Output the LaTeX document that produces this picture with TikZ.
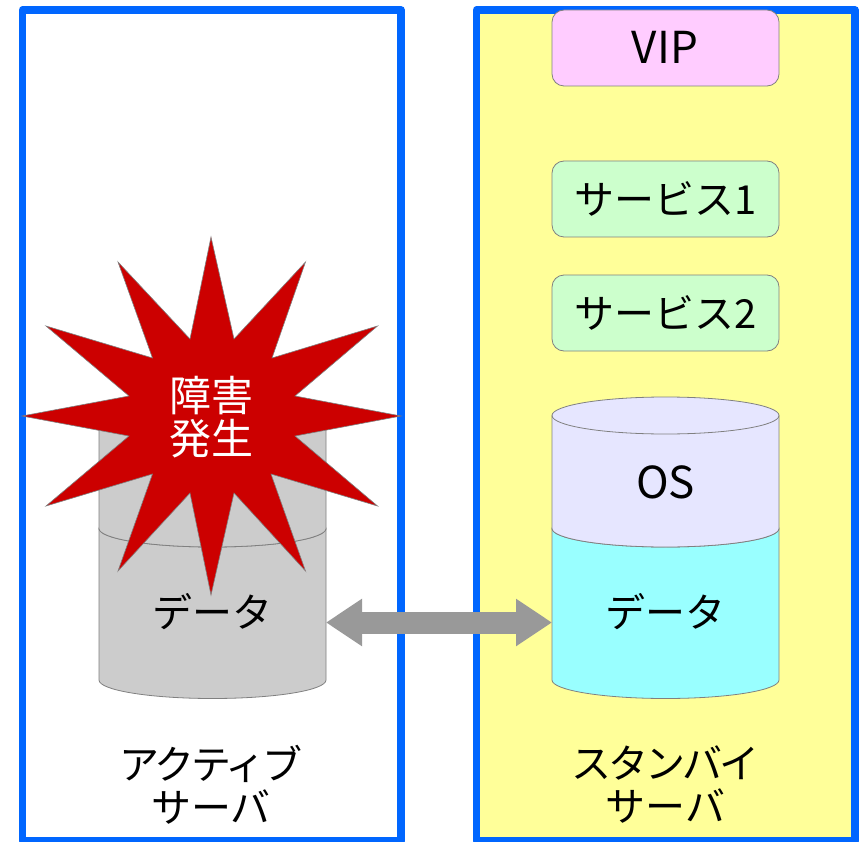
\documentclass[tikz,border=0pt]{standalone}
\usepackage{fontspec}
\setmainfont{Noto Sans CJK JP}
\usetikzlibrary{arrows.meta}
\definecolor{frameblue}{HTML}{0066FF}
\definecolor{paleyellow}{HTML}{FFFF99}
\definecolor{edgegray}{HTML}{808080}
\definecolor{vipfill}{HTML}{FFCCFF}
\definecolor{svcfill}{HTML}{CCFFCC}
\definecolor{osfill}{HTML}{E6E6FF}
\definecolor{datafill}{HTML}{99FFFF}
\definecolor{deadfill}{HTML}{CCCCCC}
\definecolor{linkgray}{HTML}{999999}
\definecolor{burst}{HTML}{CC0000}
\tikzset{
  x=1pt,y=-1pt,
  frame/.style={draw=frameblue,line width=7.5pt,line join=round},
  pill/.style={draw=edgegray,line width=0.8pt,rounded corners=12pt},
  cyl/.style={draw=edgegray,line width=0.8pt},
  label/.style={font=\fontsize{40}{43}\selectfont,align=center,inner sep=0pt,text=black},
  latinlabel/.style={label,font=\fontsize{44}{46}\selectfont},
  faultlabel/.style={label,font=\fontsize{42}{43}\selectfont,text=white},
  syncarrow/.style={line width=22pt,draw=linkgray,{Triangle[length=36pt,width=45pt]}-{Triangle[length=36pt,width=45pt]}},
}
% #1 left x, #2 right x, #3 side top y, #4 side bottom y, #5 fill
\newcommand{\cylpart}[5]{%
  \draw[cyl,fill=#5] (#1,#3) -- (#1,#4) arc[start angle=180,end angle=0,x radius=113.5,y radius=18.5]
    -- (#2,#3) arc[start angle=0,end angle=-180,x radius=113.5,y radius=18.5] -- cycle;
  \draw[cyl] (#1,#3) arc[start angle=180,end angle=0,x radius=113.5,y radius=18.5];
}
\newcommand{\tightline}[1]{{\addfontfeature{LetterSpace=-8}#1}}
\begin{document}
\begin{tikzpicture}
\path[use as bounding box] (0,0) rectangle (861,842);
\clip (0,0) rectangle (861,842);
\fill[white] (0,0) rectangle (861,842);
% frames
\draw[frame,fill=white] (22.5,10) rectangle (401,841);
\draw[frame,fill=paleyellow] (476.5,10) rectangle (855,841);
% service boxes
\draw[pill,fill=vipfill] (552,10) rectangle (779,86);
\node[latinlabel] (vip) at (665,47) {VIP};
\draw[pill,fill=svcfill] (552,161) rectangle (779,237);
\node[label] (svc1) at (665.5,199) {サービス1};
\draw[pill,fill=svcfill] (552,275) rectangle (779,351);
\node[label] (svc2) at (665.5,313) {サービス2};
% standby cylinder
\cylpart{552}{779}{528.5}{680}{datafill}
\cylpart{552}{779}{415.5}{528.5}{osfill}
\node[latinlabel] (osR) at (665.5,482) {OS};
\node[label] (dataR) at (665.5,612) {データ};
% active cylinder
\cylpart{99}{326}{528.5}{680}{deadfill}
\cylpart{99}{326}{415.5}{528.5}{deadfill}
\node[label] (dataL) at (212.5,612) {データ};
% link between the data stores
\coordinate (portL) at (326,622.5);
\coordinate (portR) at (552,622.5);
\draw[syncarrow] (portL) -- (portR);
% burst
\draw[fill=burst,draw=edgegray,line width=0.6pt,line join=miter]
  (211,237) -- (234,339) -- (305.5,262) -- (272,358) -- (377.5,326) -- (295,396)
  -- (401,416) -- (295,436) -- (377.5,506) -- (271,474) -- (305.5,571) -- (234,493)
  -- (211,595) -- (190,493) -- (118,571) -- (152.5,474) -- (46,506) -- (129,436)
  -- (22,416) -- (129,396) -- (46,326) -- (152.5,358) -- (118,262) -- (190,339) -- cycle;
\node[faultlabel] (fault) at (211.5,417) {障害\\発生};
% server names
\node[label] (nameL) at (211,785) {\tightline{アクティブ}\\サーバ};
\node[label] (nameR) at (665.5,785) {\tightline{スタンバイ}\\サーバ};
\end{tikzpicture}
\end{document}
